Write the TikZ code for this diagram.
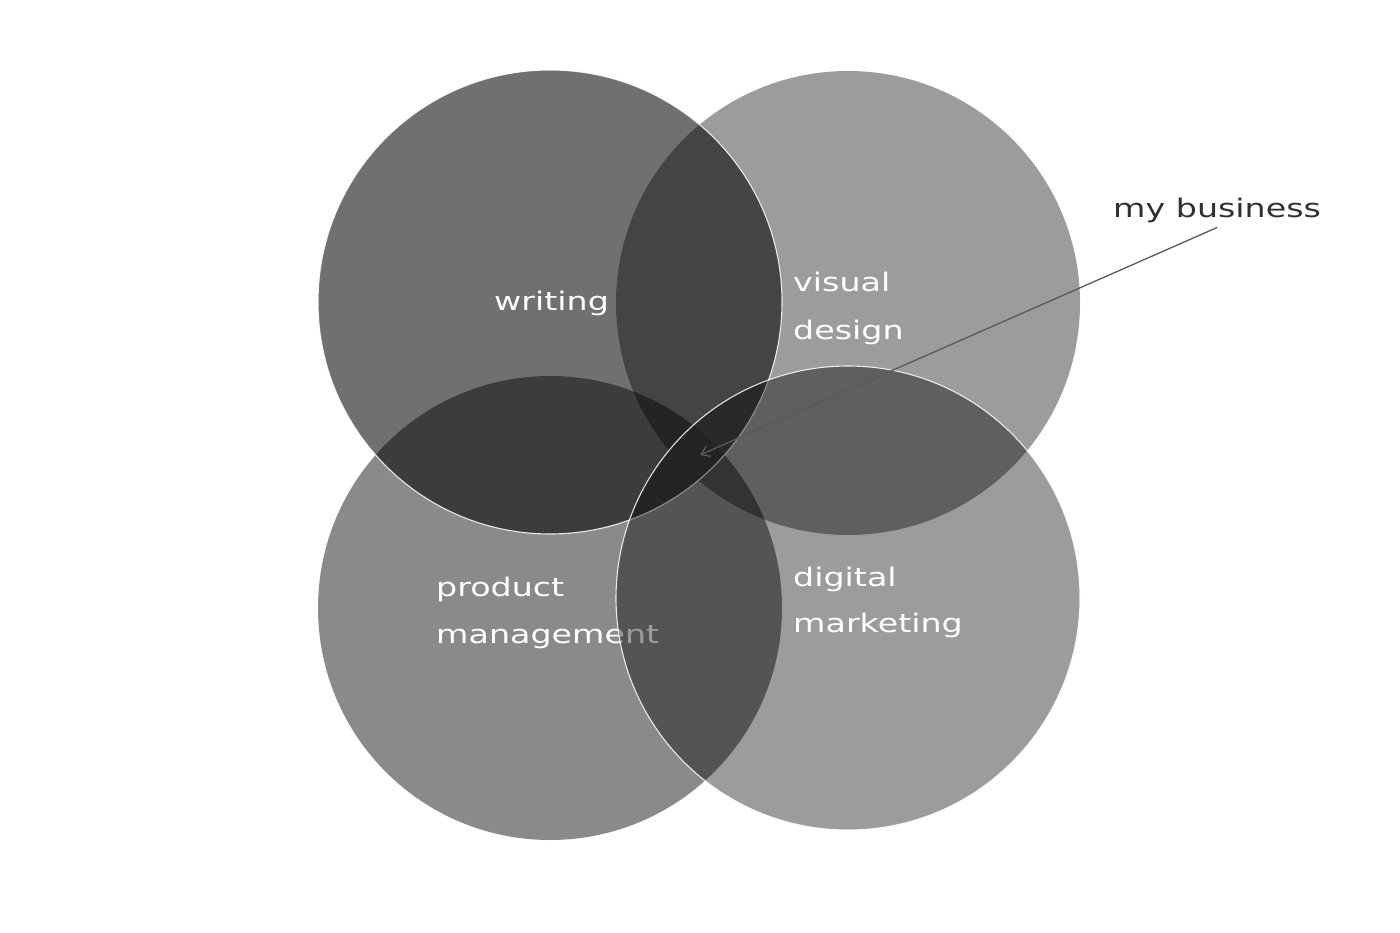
\documentclass[tikz,border=0pt]{standalone}
\usepackage{fontspec}
\setmainfont{DejaVu Sans}[FakeStretch=1.3]
\usetikzlibrary{arrows.meta}
\definecolor{arrowgray}{HTML}{5A5A5A}
\definecolor{labeldark}{HTML}{303030}
\tikzset{
  venn/.style={circle, minimum size=464pt, inner sep=0pt, fill=black},
  rim/.style={draw=white, draw opacity=0.85, line width=1.1pt},
  lab/.style={anchor=base west, inner sep=0pt, text=white, font=\fontsize{25.6pt}{30pt}\selectfont},
  toplab/.style={anchor=base west, inner sep=0pt, text=labeldark, font=\fontsize{25.6pt}{30pt}\selectfont},
  pointer/.style={draw=arrowgray, line width=1.3pt, -{Straight Barb[length=8pt,width=11pt]}}
}
\begin{document}
\begin{tikzpicture}[x=1pt,y=-1pt]
\fill[white] (0,0) rectangle (1400,933);
\useasboundingbox (0,0) rectangle (1400,933);
% circles
\node[venn, fill opacity=0.56] (cw) at (550,302) {};
\node[venn, fill opacity=0.39] (cv) at (848,303) {};
\node[venn, fill opacity=0.46] (cp) at (550,608) {};
\draw[rim] (cw.center) circle[radius=232];
\node[lab] (pm1) at (436,596) {product};
\node[lab] (pm2) at (436,643) {management};
\node[venn, fill opacity=0.39] (cd) at (848,598) {};
% slight lightening of the four-way overlap
\begin{scope}
  \clip (cw.center) circle[radius=232];
  \clip (cv.center) circle[radius=232];
  \clip (cp.center) circle[radius=232];
  \clip (cd.center) circle[radius=232];
  \fill[white, fill opacity=0.06] (600,350) rectangle (800,560);
\end{scope}
\draw[rim] (cd.center) circle[radius=232];
% labels
\node[lab] (wr) at (494,311) {writing};
\node[lab] (vd1) at (793,292) {visual};
\node[lab] (vd2) at (793,339) {design};
\node[lab] (dm1) at (793,586) {digital};
\node[lab] (dm2) at (793,632) {marketing};
\node[toplab] (mb) at (1113,218) {my business};
\coordinate (tip) at (700,455);
\draw[pointer] ([yshift=-4pt]mb.south) -- (tip);
\end{tikzpicture}
\end{document}
